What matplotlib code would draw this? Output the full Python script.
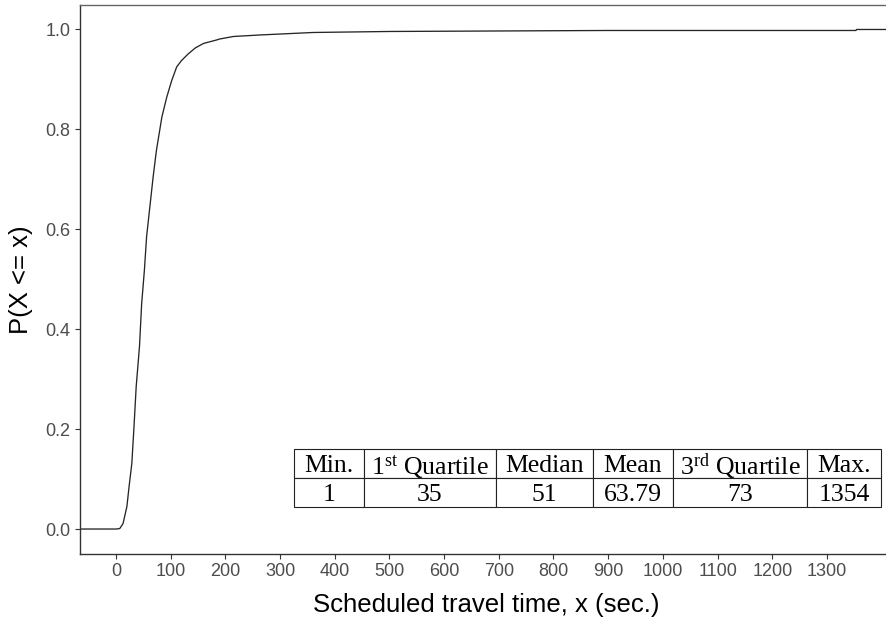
import matplotlib
matplotlib.use("Agg")
import matplotlib.pyplot as plt
import numpy as np

# ---- data ----
travel_time = [1, 7, 13, 20, 24, 29, 33, 37, 43, 47, 52, 56, 62, 68, 74, 84, 93,
               102, 111, 120, 132, 145, 160, 184, 190, 215, 263, 361, 500, 700, 900,
               1100, 1353, 1354]
ecdf = [0.0, 0.001, 0.011, 0.045, 0.085, 0.131, 0.205, 0.285, 0.365, 0.451, 0.518,
        0.585, 0.645, 0.705, 0.758, 0.825, 0.865, 0.898, 0.925, 0.938, 0.951, 0.963,
        0.972, 0.979, 0.981, 0.986, 0.989, 0.994, 0.996, 0.997, 0.998, 0.998, 0.998, 1.0]

summary_labels = ["Min.", r"1$^{\mathrm{st}}$ Quartile", "Median", "Mean",
                  r"3$^{\mathrm{rd}}$ Quartile", "Max."]
summary_values = ["1", "35", "51", "63.79", "73", "1354"]

x_ticks = list(range(0, 1301, 100))
y_ticks = [0.0, 0.2, 0.4, 0.6, 0.8, 1.0]

plt.rcParams["font.family"] = ["Liberation Sans", "DejaVu Sans"]
plt.rcParams["mathtext.fontset"] = "custom"
plt.rcParams["mathtext.rm"] = "Liberation Serif"
plt.rcParams["mathtext.it"] = "Liberation Serif:italic"

W, H = 887, 621
fig = plt.figure(figsize=(W / 100, H / 100), dpi=100)
left, right, top, bottom = 79.5, 893.5, 4.5, 554
ax = fig.add_axes([left / W, (H - bottom) / H, (right - left) / W, (bottom - top) / H])

xmin, xmax = min(travel_time), max(travel_time)
pad = 0.05 * (xmax - xmin)
xlim = (xmin - pad, xmax + pad)
ax.set_xlim(*xlim)
ax.set_ylim(-0.05, 1.05)

xs = [xlim[0]] + travel_time + [xlim[1]]
ys = [0.0] + ecdf + [1.0]
ax.plot(xs, ys, color="#262626", lw=0.95, solid_joinstyle="round")

ax.set_xticks(x_ticks)
ax.set_yticks(y_ticks)
ax.set_yticklabels([f"{v:.1f}" for v in y_ticks])
ax.tick_params(axis="both", colors="#333333", labelcolor="#4D4D4D", labelsize=13,
               length=3.6, width=0.8, direction="out", pad=3)

for s in ax.spines.values():
    s.set_color("#333333")
    s.set_linewidth(1.0)
ax.spines["top"].set_color("#666666")
ax.spines["right"].set_visible(False)

ax.set_xlabel("Scheduled travel time, x (sec.)", fontsize=18.5, color="black", labelpad=9.5)
ax.set_ylabel("P(X <= x)", fontsize=18.5, color="black", labelpad=8.5)

# ---- summary table ----
tx0, tx1, ty0, ty1 = 294, 881, 449, 507
col_px = [70, 132, 97, 80, 134, 74]
tot = sum(col_px)
aw, ah = right - left, bottom - top
bbox = [(tx0 - left) / aw, (bottom - ty1) / ah, (tx1 - tx0) / aw, (ty1 - ty0) / ah]
tbl = ax.table(cellText=[summary_labels, summary_values],
               colWidths=[c / tot for c in col_px], cellLoc="center",
               bbox=bbox, zorder=5)
tbl.auto_set_font_size(False)
tbl.set_fontsize(18.5)
for (r, c), cell in tbl.get_celld().items():
    cell.set_edgecolor("#222222")
    cell.set_linewidth(0.8)
    cell.set_facecolor("white")
    t = cell.get_text()
    t.set_fontfamily("Liberation Serif")
    t.set_fontsize(18.5)
    t.set_color("black")
    t.set_va("center_baseline")

fig.savefig("out.png", dpi=100, facecolor="white")
